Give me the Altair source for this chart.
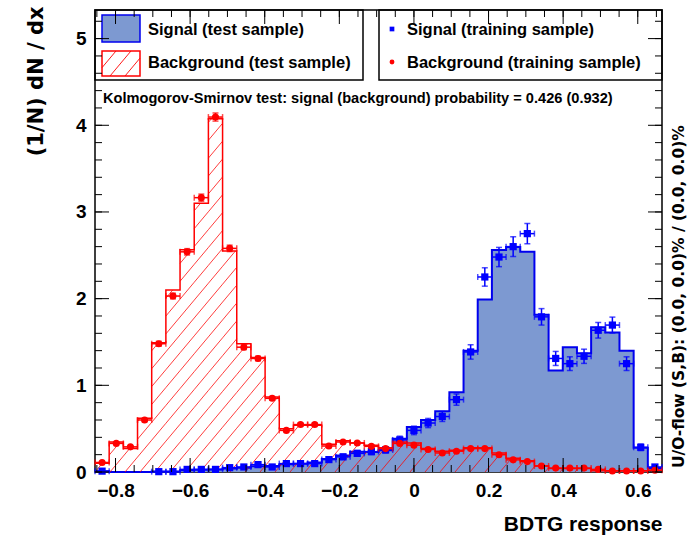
import math
import numpy as np
import pandas as pd
import altair as alt

# ---- binning of the BDTG response (40 equal bins) ----
X_MIN, X_MAX, N_BINS = -0.855, 0.665, 40
Y_MAX = 5.33

# normalised test-sample histograms (1/N dN/dx)
sig_test = [0.01, 0.0, 0.0, 0.0, 0.005, 0.005, 0.02, 0.025, 0.03, 0.04,
            0.05, 0.065, 0.07, 0.09, 0.095, 0.11, 0.15, 0.19, 0.235, 0.23,
            0.25, 0.385, 0.52, 0.60, 0.70, 0.92, 1.40, 1.99, 2.56, 2.595,
            2.54, 1.815, 1.17, 1.44, 1.37, 1.67, 1.61, 1.40, 0.28, 0.045]
bkg_test = [0.10, 0.345, 0.27, 0.62, 1.49, 2.10, 2.565, 3.10, 4.075, 2.55,
            1.48, 1.32, 0.865, 0.50, 0.54, 0.54, 0.32, 0.36, 0.335, 0.31,
            0.28, 0.345, 0.335, 0.27, 0.24, 0.25, 0.28, 0.28, 0.22, 0.16,
            0.13, 0.07, 0.04, 0.04, 0.04, 0.015, 0.015, 0.015, 0.015, 0.02]

# training-sample points with statistical errors (None = empty bin)
sig_train = [0.01, None, None, None, 0.004, 0.004, 0.03, 0.03, 0.03, 0.05,
             0.058, 0.085, 0.058, 0.097, 0.097, 0.097, 0.143, 0.175, 0.215, 0.235,
             0.255, 0.37, 0.48, 0.565, 0.64, 0.835, 1.385, 2.25, 2.48, 2.60,
             2.75, 1.79, 1.31, 1.25, 1.335, 1.635, 1.695, 1.25, 0.285, 0.058]
sig_train_err = [0.007, 0.0, 0.0, 0.0, 0.004, 0.004, 0.012, 0.012, 0.012, 0.016,
                 0.017, 0.02, 0.017, 0.022, 0.022, 0.022, 0.027, 0.03, 0.033, 0.034,
                 0.036, 0.043, 0.049, 0.053, 0.057, 0.065, 0.083, 0.106, 0.111, 0.114,
                 0.117, 0.095, 0.081, 0.079, 0.082, 0.09, 0.092, 0.079, 0.038, 0.017]
bkg_train = [0.11, 0.33, 0.29, 0.60, 1.48, 2.03, 2.54, 3.165, 4.095, 2.58,
             1.44, 1.31, 0.85, 0.48, 0.547, 0.547, 0.30, 0.346, 0.335, 0.296,
             0.27, 0.33, 0.31, 0.26, 0.22, 0.24, 0.27, 0.27, 0.20, 0.14,
             0.12, 0.07, 0.045, 0.045, 0.045, 0.03, 0.012, 0.012, 0.012, 0.02]
bkg_train_err = [0.008, 0.013, 0.012, 0.018, 0.028, 0.033, 0.037, 0.041, 0.047, 0.037,
                 0.028, 0.026, 0.021, 0.016, 0.017, 0.017, 0.013, 0.014, 0.013, 0.013,
                 0.012, 0.013, 0.013, 0.012, 0.011, 0.011, 0.012, 0.012, 0.010, 0.009,
                 0.008, 0.006, 0.005, 0.005, 0.005, 0.004, 0.003, 0.003, 0.003, 0.003]

x_labels = [-0.8, -0.6, -0.4, -0.2, 0.0, 0.2, 0.4, 0.6]
y_labels = [0, 1, 2, 3, 4, 5]
x_minor = [round(v, 2) for v in np.arange(-0.85, 0.66, 0.05)]
y_minor = [round(v, 1) for v in np.arange(0.0, 5.21, 0.2)]

ks_text = "Kolmogorov-Smirnov test: signal (background) probability = 0.426 (0.932)"
flow_text = "U/O-flow (S,B): (0.0, 0.0)% / (0.0, 0.0)%"

# ---- styling ----
W, H = 567, 462
SIG_FILL, SIG_LINE = "#7d99d1", "#0000ee"
BKG_LINE = "#ff0000"
FONT = "Liberation Sans"
HATCH_SPACING, HATCH_ANGLE = 15.0, 50.0

edges = np.linspace(X_MIN, X_MAX, N_BINS + 1)
lo, hi = edges[:-1], edges[1:]
centre = 0.5 * (lo + hi)


def outline(values):
    return pd.DataFrame({"x": edges, "y": list(values) + [values[-1]], "base": 0.0})


def points(values, errors):
    rows = []
    for c, l, h, v, e in zip(centre, lo, hi, values, errors):
        if v is None:
            continue
        rows.append({"c": c, "lo": l, "hi": h, "v": v, "vlo": v - e, "vhi": v + e})
    return pd.DataFrame(rows)


def hatch(x_edges_px, heights_px):
    """Diagonal hatch segments clipped to each bin, in pixel units (y up)."""
    t = math.tan(math.radians(HATCH_ANGLE))
    segs = []
    for xa, xb, hb in zip(x_edges_px[:-1], x_edges_px[1:], heights_px):
        if hb <= 0:
            continue
        k0 = math.floor((xa - hb / t) / HATCH_SPACING) - 1
        k1 = math.ceil(xb / HATCH_SPACING) + 1
        for k in range(k0, k1 + 1):
            c = k * HATCH_SPACING
            a, b = max(xa, c), min(xb, c + hb / t)
            if b > a:
                segs.append((a, t * (a - c), b, t * (b - c)))
    return segs


px_edges = (edges - X_MIN) / (X_MAX - X_MIN) * W
px_heights = np.array(bkg_test) / Y_MAX * H
hatch_df = pd.DataFrame(
    [
        {
            "x": X_MIN + a / W * (X_MAX - X_MIN),
            "y": ya / H * Y_MAX,
            "x2": X_MIN + b / W * (X_MAX - X_MIN),
            "y2": yb / H * Y_MAX,
        }
        for a, ya, b, yb in hatch(px_edges, px_heights)
    ]
)

xs = alt.Scale(domain=[X_MIN, X_MAX], nice=False, zero=False)
ys = alt.Scale(domain=[0, Y_MAX], nice=False, zero=False)

x_axis = alt.Axis(
    values=x_labels, format=".1~f", ticks=False, domain=False, grid=False,
    labelFont=FONT, labelFontSize=19, labelFontWeight="bold", labelColor="black",
    labelPadding=9, labelFlush=False, labelOverlap=False,
    title="BDTG response", titleFont=FONT, titleFontSize=21, titleFontWeight="bold",
    titleColor="black", titleAnchor="end", titleAlign="right", titleX=W, titleY=58,
    titleBaseline="alphabetic",
)
y_axis = alt.Axis(
    values=y_labels, format="d", ticks=False, domain=False, grid=False,
    labelFont=FONT, labelFontSize=19, labelFontWeight="bold", labelColor="black",
    labelPadding=9, labelOverlap=False,
    title="(1/N) dN / dx", titleFont="DejaVu Sans", titleFontSize=21, titleFontWeight="bold",
    titleColor="black", titleAngle=270, titleAlign="right", titleBaseline="alphabetic",
    titleX=-53, titleY=-4,
)


# every data layer shares the same scales and the same axis definitions
def X(field):
    return alt.X(field, type="quantitative", scale=xs, axis=x_axis)


def Y(field):
    return alt.Y(field, type="quantitative", scale=ys, axis=y_axis)


# signal (test sample): filled histogram
sig_fill = alt.Chart(outline(sig_test)).mark_area(
    color=SIG_FILL, interpolate="step-after", opacity=1
).encode(x=X("x"), y=Y("y"), y2="base")
sig_line = alt.Chart(outline(sig_test)).mark_line(
    color=SIG_LINE, strokeWidth=2, interpolate="step-after"
).encode(x=X("x"), y=Y("y"))

# background (test sample): hatched histogram
bkg_hatch = alt.Chart(hatch_df).mark_rule(color=BKG_LINE, strokeWidth=0.9, opacity=0.85).encode(
    x=X("x"), y=Y("y"), x2="x2", y2="y2"
)
bkg_line = alt.Chart(outline(bkg_test)).mark_line(
    color=BKG_LINE, strokeWidth=1.5, interpolate="step-after"
).encode(x=X("x"), y=Y("y"))


def training_layers(df, color, shape, size):
    base = alt.Chart(df)
    return [
        base.mark_rule(color=color, strokeWidth=1.5).encode(x=X("lo"), x2="hi", y=Y("v")),
        base.mark_rule(color=color, strokeWidth=1.5).encode(x=X("c"), y=Y("vlo"), y2="vhi"),
        base.mark_tick(color=color, orient="horizontal", size=6, thickness=1.5).encode(x=X("c"), y=Y("vlo")),
        base.mark_tick(color=color, orient="horizontal", size=6, thickness=1.5).encode(x=X("c"), y=Y("vhi")),
        base.mark_tick(color=color, orient="vertical", size=6, thickness=1.5).encode(x=X("lo"), y=Y("v")),
        base.mark_tick(color=color, orient="vertical", size=6, thickness=1.5).encode(x=X("hi"), y=Y("v")),
        base.mark_point(color=color, shape=shape, filled=True, opacity=1, size=size).encode(x=X("c"), y=Y("v")),
    ]


sig_pts = training_layers(points(sig_train, sig_train_err), "#0000ff", "square", 52)
bkg_pts = training_layers(points(bkg_train, bkg_train_err), "#ff0000", "circle", 50)

one = pd.DataFrame({"k": [0]})


def box(x0, x1, y0, y1, **kw):
    return alt.Chart(one).mark_rect(**kw).encode(
        x=alt.value(x0), x2=alt.value(x1), y=alt.value(y0), y2=alt.value(y1)
    )


def label(x, y, text, size=16.5, **kw):
    return alt.Chart(one).mark_text(
        align="left", baseline="middle", font=FONT, fontSize=size, fontWeight="bold",
        color="black", **kw
    ).encode(x=alt.value(x), y=alt.value(y), text=alt.value(text))


# legend
legend = [
    box(0, 268, 0, 70, fillOpacity=0, stroke="black", strokeWidth=1.5),
    box(284, W, 0, 70, fillOpacity=0, stroke="black", strokeWidth=1.5),
    box(7, 45, 5, 32, fill=SIG_FILL, stroke=SIG_LINE, strokeWidth=1.5),
    box(7, 45, 41, 66, fillOpacity=0, stroke=BKG_LINE, strokeWidth=1.5),
    label(53, 20, "Signal (test sample)"),
    label(53, 53, "Background (test sample)"),
    label(312, 20, "Signal (training sample)"),
    label(312, 53, "Background (training sample)"),
    alt.Chart(one).mark_point(shape="square", filled=True, color="#0000ff", size=22, opacity=1).encode(
        x=alt.value(297), y=alt.value(19)),
    alt.Chart(one).mark_point(shape="circle", filled=True, color="#ff0000", size=24, opacity=1).encode(
        x=alt.value(297), y=alt.value(52)),
]
for a, ya, b, yb in hatch([7, 45], [25]):
    legend.append(
        alt.Chart(one).mark_rule(color=BKG_LINE, strokeWidth=0.9).encode(
            x=alt.value(a), y=alt.value(66 - ya), x2=alt.value(b), y2=alt.value(66 - yb))
    )

texts = [
    label(8, 89, ks_text, size=14.6),
    alt.Chart(one).mark_text(
        angle=270, align="left", baseline="alphabetic", font="DejaVu Sans", fontSize=15.5,
        fontWeight="bold", color="black"
    ).encode(x=alt.value(589), y=alt.value(458), text=alt.value(flow_text)),
]


# inward frame ticks on all four sides
def yticks(vals, length):
    d = alt.Chart(pd.DataFrame({"t": vals}))
    return [
        d.mark_rule(color="black", strokeWidth=1).encode(y=Y("t"), x=alt.value(0), x2=alt.value(length)),
        d.mark_rule(color="black", strokeWidth=1).encode(y=Y("t"), x=alt.value(W - length), x2=alt.value(W)),
    ]


def xticks(vals, length):
    d = alt.Chart(pd.DataFrame({"t": vals}))
    return [
        d.mark_rule(color="black", strokeWidth=1).encode(x=X("t"), y=alt.value(H), y2=alt.value(H - length)),
        d.mark_rule(color="black", strokeWidth=1).encode(x=X("t"), y=alt.value(0), y2=alt.value(length)),
    ]


ticks = yticks(y_labels, 14) + yticks(y_minor, 7) + xticks(x_labels, 14) + xticks(x_minor, 7)

chart = alt.layer(
    sig_fill, sig_line, bkg_hatch, bkg_line, *sig_pts, *bkg_pts, *legend, *texts, *ticks
).properties(
    width=W, height=H,
    padding={"left": 95, "top": 10, "right": 25, "bottom": 65},
    autosize=alt.AutoSizeParams(type="none"),
    background="white",
).configure_view(stroke="black", strokeWidth=1.5)

chart.save("out.html", embed_options={"renderer": "svg", "actions": False})
